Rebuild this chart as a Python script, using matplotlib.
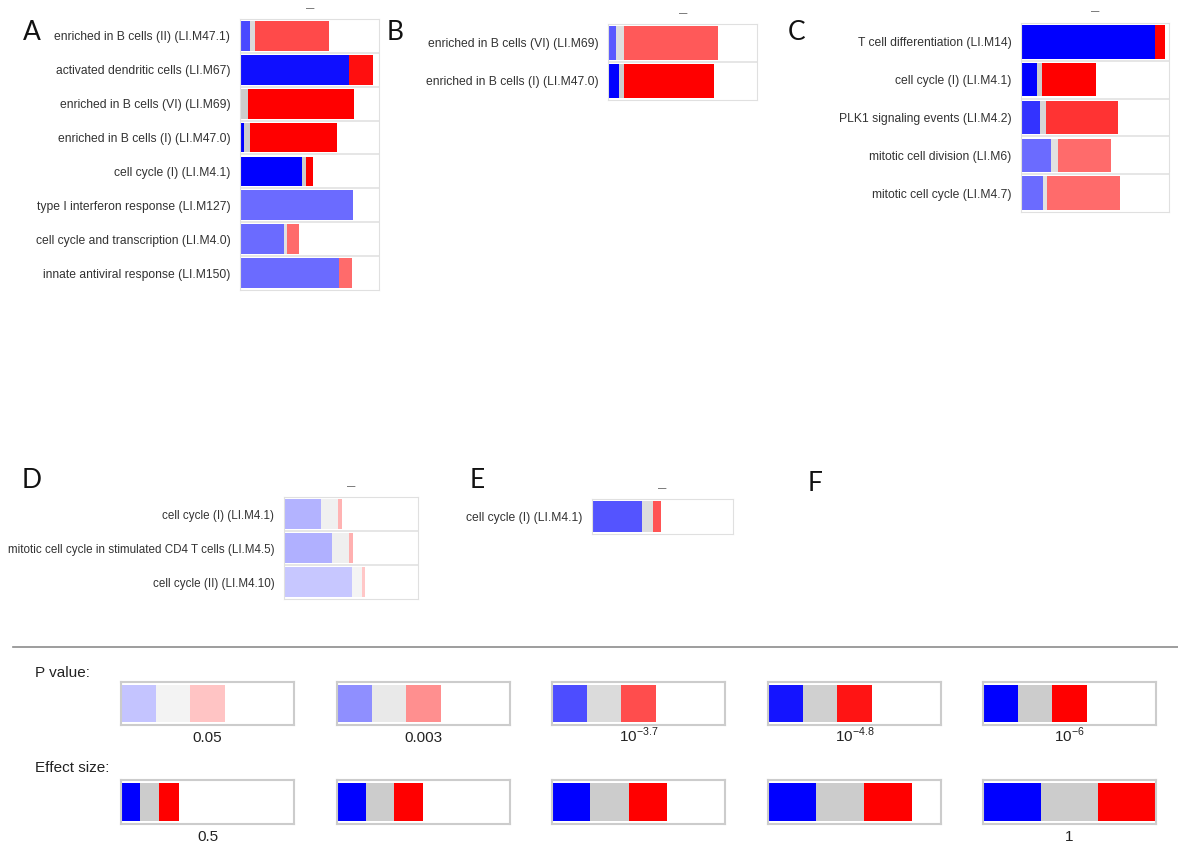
import matplotlib.pyplot as plt
from matplotlib.lines import Line2D
from matplotlib.colors import to_rgb
import numpy as np

plt.rcParams['font.family'] = ['Liberation Sans', 'DejaVu Sans']
plt.rcParams['mathtext.fontset'] = 'custom'
plt.rcParams['mathtext.rm'] = 'Liberation Sans'

BLUE, GREY, RED = '#0000ff', '#cccccc', '#ff0000'

# %% data: widths are fractions of each panel's box, alpha = p-value shading
a_labels = ['enriched in B cells (II) (LI.M47.1)', 'activated dendritic cells (LI.M67)',
            'enriched in B cells (VI) (LI.M69)', 'enriched in B cells (I) (LI.M47.0)',
            'cell cycle (I) (LI.M4.1)', 'type I interferon response (LI.M127)',
            'cell cycle and transcription (LI.M4.0)', 'innate antiviral response (LI.M150)']
a_down = [0.072, 0.784, 0.0, 0.032, 0.446, 0.813, 0.320, 0.712]
a_flat = [0.036, 0.0, 0.058, 0.040, 0.029, 0.0, 0.018, 0.0]
a_up = [0.532, 0.173, 0.763, 0.626, 0.050, 0.0, 0.086, 0.094]
a_alpha = [0.71, 0.94, 1.0, 1.0, 1.0, 0.58, 0.58, 0.58]

b_labels = ['enriched in B cells (VI) (LI.M69)', 'enriched in B cells (I) (LI.M47.0)']
b_down = [0.054, 0.074]
b_flat = [0.054, 0.034]
b_up = [0.631, 0.604]
b_alpha = [0.65, 1.0]

c_labels = ['T cell differentiation (LI.M14)', 'cell cycle (I) (LI.M4.1)',
            'PLK1 signaling events (LI.M4.2)', 'mitotic cell division (LI.M6)',
            'mitotic cell cycle (LI.M4.7)']
c_down = [0.905, 0.108, 0.128, 0.203, 0.149]
c_flat = [0.0, 0.034, 0.041, 0.047, 0.027]
c_up = [0.068, 0.365, 0.486, 0.358, 0.493]
c_alpha = [1.0, 1.0, 0.80, 0.58, 0.58]

d_labels = ['cell cycle (I) (LI.M4.1)', 'mitotic cell cycle in stimulated CD4 T cells (LI.M4.5)',
            'cell cycle (II) (LI.M4.10)']
d_down = [0.276, 0.358, 0.507]
d_flat = [0.127, 0.127, 0.075]
d_up = [0.030, 0.030, 0.022]
d_alpha = [0.30, 0.31, 0.22]

e_labels = ['cell cycle (I) (LI.M4.1)']
e_down = [0.355]
e_flat = [0.078]
e_up = [0.057]
e_alpha = [0.67]

p_labels = ['0.05', '0.003', r'10$^{-3.7}$', r'10$^{-4.8}$', r'10$^{-6}$']
p_alpha = [0.23, 0.44, 0.70, 0.92, 1.0]
es_labels = ['0.5', '', '', '', '1']
es_width = [0.111, 0.166, 0.222, 0.277, 0.333]

# %%
W, H = 1178, 847
fig = plt.figure(figsize=(W / 100, H / 100), dpi=100)


def shade(base, a):
    r, g, b = to_rgb(base)
    return (1 - a * (1 - r), 1 - a * (1 - g), 1 - a * (1 - b))


def px_axes(x0, y0, x1, y1):
    return fig.add_axes([x0 / W, 1 - y1 / H, (x1 - x0) / W, (y1 - y0) / H])


def stacked(ax, y, down, flat, up, alpha, height):
    ax.barh(y, down, height=height, color=[shade(BLUE, a) for a in alpha], lw=0)
    ax.barh(y, flat, left=down, height=height, color=[shade(GREY, a) for a in alpha], lw=0)
    left = np.array(down) + np.array(flat)
    ax.barh(y, up, left=left, height=height, color=[shade(RED, a) for a in alpha], lw=0)


def draw_panel(box, labels, down, flat, up, alpha, fs=8.7):
    ax = px_axes(*box)
    y = np.arange(len(labels))
    stacked(ax, y, down, flat, up, alpha, 0.88)
    ax.set_xlim(0, 1)
    ax.set_ylim(len(labels) - 0.5, -0.5)
    ax.set_yticks(y, labels, fontsize=fs, color='#333333')
    ax.tick_params(axis='y', length=0, pad=7)
    ax.set_xticks([])
    for i in range(1, len(labels)):
        ax.axhline(i - 0.5, color='#e4e4e4', lw=1.3)
    for s in ax.spines.values():
        s.set_color('#e0e0e0')
    return ax


draw_panel((240, 19, 379, 290), a_labels, a_down, a_flat, a_up, a_alpha)
draw_panel((608, 24, 757, 100), b_labels, b_down, b_flat, b_up, b_alpha)
draw_panel((1021, 23, 1169, 212), c_labels, c_down, c_flat, c_up, c_alpha)
draw_panel((284, 497, 418, 599), d_labels, d_down, d_flat, d_up, d_alpha, fs=8.4)
draw_panel((592, 499, 733, 534), e_labels, e_down, e_flat, e_up, e_alpha)

# tiny marks above panels
for x, y in [(310, 9), (683, 14), (1095, 12), (351, 487), (662, 489)]:
    fig.text(x / W, 1 - y / H, '—', fontsize=6, fontweight='bold', color='#555555',
             ha='center', va='center')

for letter, x, y in [('A', 23, 33), ('B', 387, 32), ('C', 788, 33),
                     ('D', 22, 480), ('E', 470, 480), ('F', 808, 483)]:
    fig.text(x / W, 1 - y / H, letter, fontsize=19, family='Lato', color='#111111',
             ha='left', va='center')

# %% legend
fig.add_artist(Line2D([13 / W, 1], [1 - 647 / H] * 2, color='#8c8c8c', lw=1.2))
fig.text(35 / W, 1 - 673 / H, 'P value:', fontsize=11, color='#222222', va='center')
fig.text(35 / W, 1 - 768 / H, 'Effect size:', fontsize=11, color='#222222', va='center')

box_x = [121, 337, 552, 768, 983]
for i, x in enumerate(box_x):
    ax = px_axes(x, 682, x + 173, 725)
    stacked(ax, [0], [0.2], [0.2], [0.2], [p_alpha[i]], 0.88)
    ax.set_xlim(0, 1)
    ax.set_ylim(-0.5, 0.5)
    ax.set_xticks([])
    ax.set_yticks([])
    for s in ax.spines.values():
        s.set_color('#cccccc')
        s.set_linewidth(1.5)
    fig.text((x + 86.5) / W, 1 - 742 / H, p_labels[i], fontsize=11, color='#222222',
             ha='center', va='baseline')

    ax = px_axes(x, 780, x + 173, 824)
    w = es_width[i]
    stacked(ax, [0], [w], [w], [w], [1.0], 0.88)
    ax.set_xlim(0, 1)
    ax.set_ylim(-0.5, 0.5)
    ax.set_xticks([])
    ax.set_yticks([])
    for s in ax.spines.values():
        s.set_color('#cccccc')
        s.set_linewidth(1.5)
    if es_labels[i]:
        fig.text((x + 86.5) / W, 1 - 841 / H, es_labels[i], fontsize=11, color='#222222',
                 ha='center', va='baseline')

fig.savefig('out.png', dpi=100)
